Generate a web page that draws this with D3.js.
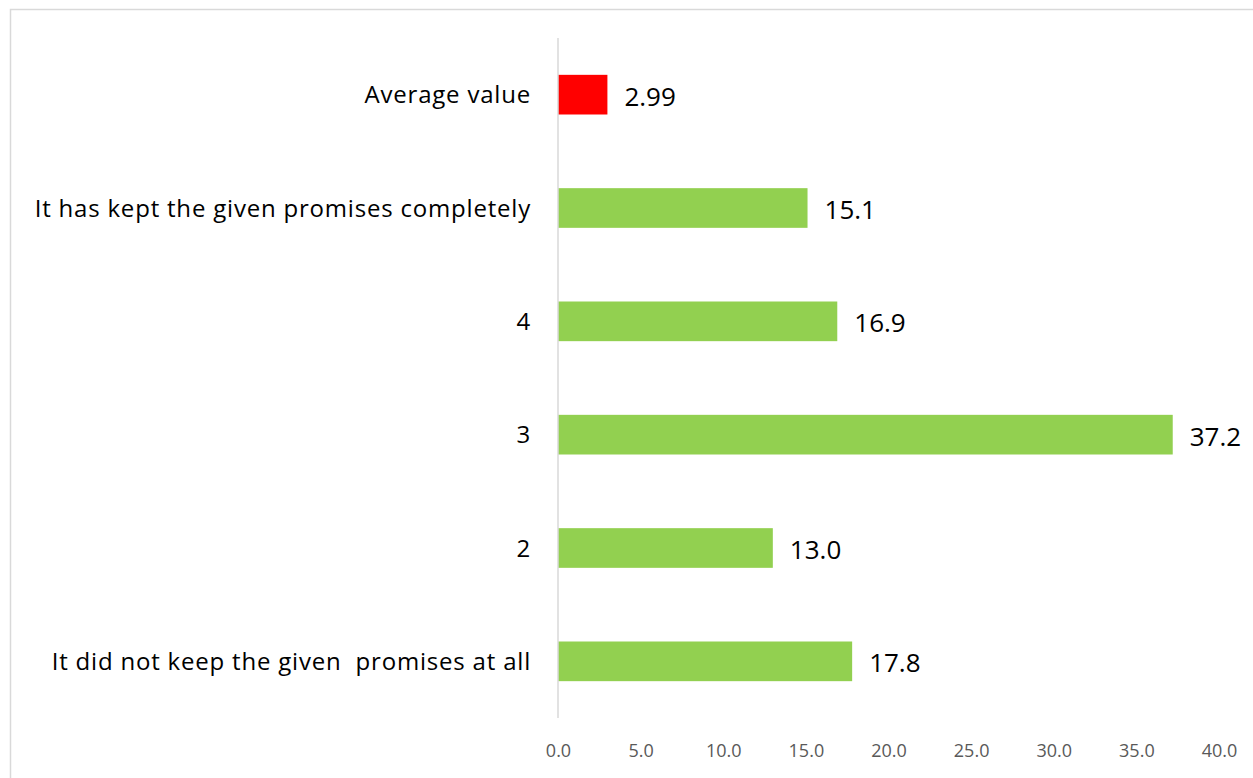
<!DOCTYPE html>
<html>
<head>
<meta charset="utf-8">
<script src="https://cdn.jsdelivr.net/npm/d3@7"></script>
<style>
  html, body { margin: 0; padding: 0; background: #fff; }
  svg { display: block; }
  text { font-family: "Open Sans", sans-serif; }
</style>
</head>
<body>
<svg id="chart" width="1253" height="778"></svg>
<script>
// Rating of how well the given promises were kept (percent) plus the average score
const categories = [
  "Average value",
  "It has kept the given promises completely",
  "4",
  "3",
  "2",
  "It did not keep the given  promises at all"
];
const values = [2.99, 15.1, 16.9, 37.2, 13.0, 17.8];
const valueLabels = ["2.99", "15.1", "16.9", "37.2", "13.0", "17.8"];
const barColors = ["#ff0000", "#92d050", "#92d050", "#92d050", "#92d050", "#92d050"];
const tickValues = [0, 5, 10, 15, 20, 25, 30, 35, 40];

const svg = d3.select("#chart");

// outer chart frame
svg.append("rect")
  .attr("x", 10.5).attr("y", 9.5)
  .attr("width", 1260).attr("height", 800)
  .attr("fill", "none").attr("stroke", "#d9d9d9").attr("stroke-width", 1.5);

const x = d3.scaleLinear().domain([0, 40]).range([558, 1219]);
const y = d3.scaleBand().domain(categories).range([38, 718]).paddingInner(0.65).paddingOuter(0.325);

// bars
svg.append("g").selectAll("rect")
  .data(values)
  .join("rect")
  .attr("x", x(0))
  .attr("y", (d, i) => y(categories[i]))
  .attr("width", d => x(d) - x(0))
  .attr("height", y.bandwidth())
  .attr("fill", (d, i) => barColors[i]);

// vertical category axis line
svg.append("line")
  .attr("x1", x(0)).attr("x2", x(0))
  .attr("y1", 38).attr("y2", 718)
  .attr("stroke", "#d9d9d9").attr("stroke-width", 1.5);

// category labels
svg.append("g").selectAll("text")
  .data(categories)
  .join("text")
  .attr("x", 531)
  .attr("y", d => y(d) + y.bandwidth() / 2 - 1)
  .attr("text-anchor", "end")
  .attr("dominant-baseline", "central")
  .attr("font-size", 24)
  .attr("letter-spacing", 0.8)
  .attr("fill", "#000")
  .style("white-space", "pre")
  .text(d => d);

// value labels
svg.append("g").selectAll("text")
  .data(values)
  .join("text")
  .attr("x", d => x(d) + 17)
  .attr("y", (d, i) => y(categories[i]) + y.bandwidth() / 2 + 1)
  .attr("dominant-baseline", "central")
  .attr("font-size", 26)
  .attr("fill", "#000")
  .text((d, i) => valueLabels[i]);

// value axis (labels only)
const xAxis = d3.axisBottom(x)
  .tickValues(tickValues)
  .tickFormat(d3.format(".1f"))
  .tickSize(0)
  .tickPadding(0);
const gx = svg.append("g").attr("transform", "translate(0,744)").call(xAxis);
gx.select(".domain").remove();
gx.selectAll("text")
  .attr("font-size", 18)
  .attr("fill", "#595959")
  .style("font-family", "'Open Sans', sans-serif");
</script>
</body>
</html>
